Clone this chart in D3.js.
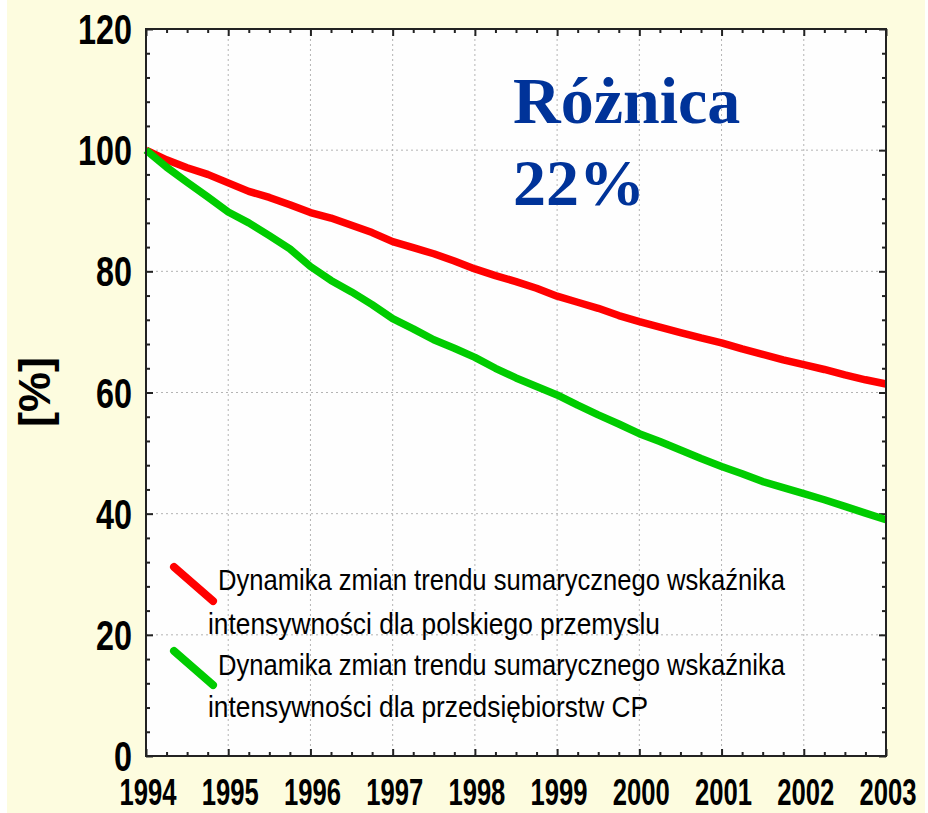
<!DOCTYPE html>
<html><head><meta charset="utf-8">
<script src="https://cdn.jsdelivr.net/npm/d3@7"></script>
<style>html,body{margin:0;padding:0;background:#fff;}svg{display:block;}</style>
</head><body>
<script>
// ---- data ----
const years = [1994,1995,1996,1997,1998,1999,2000,2001,2002,2003];
const yTicks = [0,20,40,60,80,100,120];
// quarterly values (time = 1994 + k/4)
const polandValues = [100,98.4,97.1,96.0,94.6,93.2,92.2,91.0,89.7,88.8,87.6,86.4,84.9,83.9,82.9,81.7,80.4,79.3,78.3,77.2,75.9,74.9,73.9,72.7,71.7,70.8,69.9,69.0,68.2,67.2,66.3,65.4,64.6,63.8,62.9,62.1,61.4];
const cpValues = [100,97.2,94.7,92.3,89.8,88.0,85.9,83.7,80.8,78.5,76.6,74.5,72.2,70.5,68.7,67.3,65.8,64.0,62.4,61.0,59.6,57.9,56.3,54.8,53.2,51.9,50.5,49.1,47.8,46.6,45.3,44.3,43.3,42.3,41.2,40.1,39.0];
const legendLines1 = ["Dynamika zmian trendu sumarycznego wskaźnika","intensywności dla polskiego przemyslu"];
const legendLines2 = ["Dynamika zmian trendu sumarycznego wskaźnika","intensywności dla przedsiębiorstw CP"];
const titleLines = ["Różnica","22%"];
const yLabel = "[%]";

const W = 928, H = 813;
const L = 146, R = 886, T = 29, B = 756;
const svg = d3.select("body").append("svg").attr("width", W).attr("height", H);

svg.append("rect").attr("x",7).attr("y",0).attr("width",918).attr("height",H).attr("fill","#fdfcdf");
svg.append("rect").attr("x",L).attr("y",T).attr("width",R-L).attr("height",B-T).attr("fill","#fefefe");

const x = d3.scaleLinear().domain([1994,2003]).range([L,R]);
const y = d3.scaleLinear().domain([0,120]).range([B,T]);

// grid
const gridStyle = g => g.attr("stroke","#b4b4b4").attr("stroke-width",1).attr("stroke-dasharray","2,3");
svg.append("g").selectAll("line").data(years.slice(1,-1)).join("line")
  .attr("x1",d=>x(d)).attr("x2",d=>x(d)).attr("y1",T).attr("y2",B).call(gridStyle);
svg.append("g").selectAll("line").data(yTicks.slice(1,-1)).join("line")
  .attr("y1",d=>y(d)).attr("y2",d=>y(d)).attr("x1",L).attr("x2",R).call(gridStyle);

// minor ticks
const xMinor = d3.range(0,37).map(k=>1994+k/4).filter(v=>!years.includes(v));
const yMinor = d3.range(0,121,4).filter(v=>!yTicks.includes(v));

function tickAxes(){
  const mk = (axis, vals, size) => axis.tickValues(vals).tickSizeInner(-size).tickSizeOuter(0).tickFormat("");
  [[mk(d3.axisBottom(x),years,7),`translate(0,${B})`],[mk(d3.axisTop(x),years,7),`translate(0,${T})`],
   [mk(d3.axisLeft(y),yTicks,7),`translate(${L},0)`],[mk(d3.axisRight(y),yTicks,7),`translate(${R},0)`],
   [mk(d3.axisBottom(x),xMinor,4),`translate(0,${B})`],[mk(d3.axisTop(x),xMinor,4),`translate(0,${T})`],
   [mk(d3.axisLeft(y),yMinor,4),`translate(${L},0)`],[mk(d3.axisRight(y),yMinor,4),`translate(${R},0)`]]
  .forEach(([ax,tr])=>{
    const g = svg.append("g").attr("transform",tr).call(ax);
    g.select(".domain").remove();
    g.selectAll("line").attr("stroke","#222").attr("stroke-width",2);
  });
}
tickAxes();

// series lines
const pts = vals => vals.map((v,k)=>[1994+k/4, v]);
const line = d3.line().x(d=>x(d[0])).y(d=>y(d[1]));
svg.append("path").datum(pts(polandValues)).attr("d",line).attr("fill","none")
  .attr("stroke","#ff0000").attr("stroke-width",7.5).attr("stroke-linejoin","round");
svg.append("path").datum(pts(cpValues)).attr("d",line).attr("fill","none")
  .attr("stroke","#00cc00").attr("stroke-width",7.5).attr("stroke-linejoin","round");

// border
svg.append("rect").attr("x",L).attr("y",T).attr("width",R-L).attr("height",B-T)
  .attr("fill","none").attr("stroke","#222").attr("stroke-width",2);

// tick labels
svg.append("g").selectAll("text").data(years).join("text")
  .attr("x",d=>x(d)+2).attr("y",805).attr("text-anchor","middle")
  .attr("font-family","Liberation Sans, Arial, sans-serif").attr("font-weight","bold").attr("font-size",36)
  .attr("textLength",57).attr("lengthAdjust","spacingAndGlyphs").attr("fill","#000").text(d=>d);
svg.append("g").selectAll("text").data(yTicks).join("text")
  .attr("x",132).attr("y",d=>y(d)+15).attr("text-anchor","end")
  .attr("font-family","Liberation Sans, Arial, sans-serif").attr("font-weight","bold").attr("font-size",42)
  .attr("textLength",d=>String(d).length*18).attr("lengthAdjust","spacingAndGlyphs").attr("fill","#000").text(d=>d);

// y label
svg.append("text").attr("transform","translate(50,392) rotate(-90)").attr("text-anchor","middle")
  .attr("font-family","Liberation Sans, Arial, sans-serif").attr("font-weight","bold").attr("font-size",45)
  .attr("fill","#000").text(yLabel);

// title
svg.append("g").selectAll("text").data(titleLines).join("text")
  .attr("x",513).attr("y",(d,i)=>i===0?123:205)
  .attr("font-family","Liberation Serif, Times New Roman, serif").attr("font-weight","bold").attr("font-size",66)
  .attr("fill","#003399").text(d=>d);

// legend
const legend = [
  {color:"#ff0000", lines:legendLines1, y0:567, base:[590,634], ends:[785,660]},
  {color:"#00cc00", lines:legendLines2, y0:651, base:[675,717], ends:[785,648]}
];
legend.forEach(it=>{
  svg.append("line").attr("x1",174).attr("y1",it.y0).attr("x2",213).attr("y2",it.y0+34)
    .attr("stroke",it.color).attr("stroke-width",8).attr("stroke-linecap","round");
  it.lines.forEach((t,i)=>{
    const x0 = i===0?218:208;
    svg.append("text").attr("x",x0).attr("y",it.base[i])
      .attr("font-family","Liberation Sans, Arial, sans-serif").attr("font-size",30)
      .attr("textLength",it.ends[i]-x0).attr("lengthAdjust","spacingAndGlyphs")
      .attr("fill","#000").text(t);
  });
});
</script>
</body></html>
